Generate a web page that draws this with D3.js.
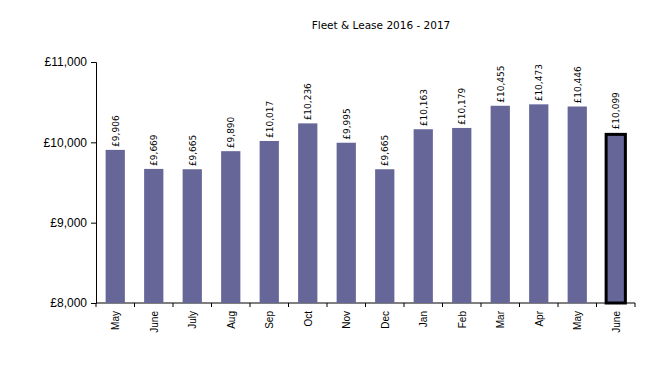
<!DOCTYPE html>
<html>
<head>
<meta charset="utf-8">
<script src="https://cdn.jsdelivr.net/npm/d3@7"></script>
<style>
  body { margin: 0; background: #fff; }
  svg { display: block; }
</style>
</head>
<body>
<div id="chart"></div>
<script>
// data
var months = ["May", "June", "July", "Aug", "Sep", "Oct", "Nov", "Dec", "Jan", "Feb", "Mar", "Apr", "May", "June"];
var values = [9906, 9669, 9665, 9890, 10017, 10236, 9995, 9665, 10163, 10179, 10455, 10473, 10446, 10099];
var yTicks = [8000, 9000, 10000, 11000];
var highlightIndex = 13;

var width = 669, height = 381;
var margin = { top: 62, right: 34, bottom: 78, left: 96 };
var innerW = width - margin.left - margin.right,
    innerH = height - margin.top - margin.bottom;

var svg = d3.select("#chart")
    .append("svg")
    .attr("width", width)
    .attr("height", height);

var g = svg.append("g")
    .attr("transform", "translate(" + margin.left + "," + margin.top + ")");

// title
svg.append("text")
    .attr("x", 381)
    .attr("y", 29)
    .attr("text-anchor", "middle")
    .style("font-family", "'DejaVu Sans', sans-serif")
    .style("font-size", "10.5px")
    .text("Fleet & Lease 2016 - 2017");

var x = d3.scaleBand()
    .domain(d3.range(months.length))
    .range([0, innerW])
    .paddingInner(0.5)
    .paddingOuter(0.25);

var y = d3.scaleLinear()
    .domain([8000, 11000])
    .range([innerH, 0]);

var fmt = d3.format(",");

// Y axis
var yAxis = g.append("g")
    .call(d3.axisLeft(y).tickValues(yTicks).tickSize(5).tickFormat(function (d) { return "£" + fmt(d); }));
yAxis.select(".domain").attr("stroke", "#000");
yAxis.selectAll("text")
    .attr("x", -9)
    .style("font-family", "'Liberation Sans', Arial, sans-serif")
    .style("font-size", "12px")
    .attr("fill", "#000");

// X axis: ticks at category boundaries
var xAxisG = g.append("g").attr("transform", "translate(0," + innerH + ")");
xAxisG.append("line")
    .attr("x1", 0).attr("x2", innerW)
    .attr("stroke", "#000");
xAxisG.selectAll(".tk")
    .data(d3.range(months.length + 1))
    .enter()
    .append("line")
    .attr("x1", function (d) { return d * innerW / months.length; })
    .attr("x2", function (d) { return d * innerW / months.length; })
    .attr("y1", 0).attr("y2", 4)
    .attr("stroke", "#000");
xAxisG.selectAll(".lbl")
    .data(months)
    .enter()
    .append("text")
    .attr("transform", function (d, i) {
        return "translate(" + (x(i) + x.bandwidth() / 2 + 4) + ",8) rotate(-90)";
    })
    .attr("text-anchor", "end")
    .style("font-family", "'Liberation Sans', Arial, sans-serif")
    .style("font-size", "10px")
    .text(function (d) { return d; });

// bars
g.selectAll(".bar")
    .data(values)
    .enter()
    .append("rect")
    .attr("x", function (d, i) { return x(i); })
    .attr("y", function (d) { return y(d); })
    .attr("width", x.bandwidth())
    .attr("height", function (d) { return innerH - y(d); })
    .attr("fill", "#666699")
    .attr("stroke", function (d, i) { return i === highlightIndex ? "#000" : "none"; })
    .attr("stroke-width", 3);

// value labels
g.selectAll(".val")
    .data(values)
    .enter()
    .append("text")
    .attr("transform", function (d, i) {
        return "translate(" + (x(i) + x.bandwidth() / 2 + 3.5) + "," + (y(d) - (i === highlightIndex ? 5 : 3)) + ") rotate(-90)";
    })
    .attr("text-anchor", "start")
    .style("font-family", "'DejaVu Sans', sans-serif")
    .style("font-size", "9px")
    .text(function (d) { return "£" + fmt(d); });
</script>
</body>
</html>
